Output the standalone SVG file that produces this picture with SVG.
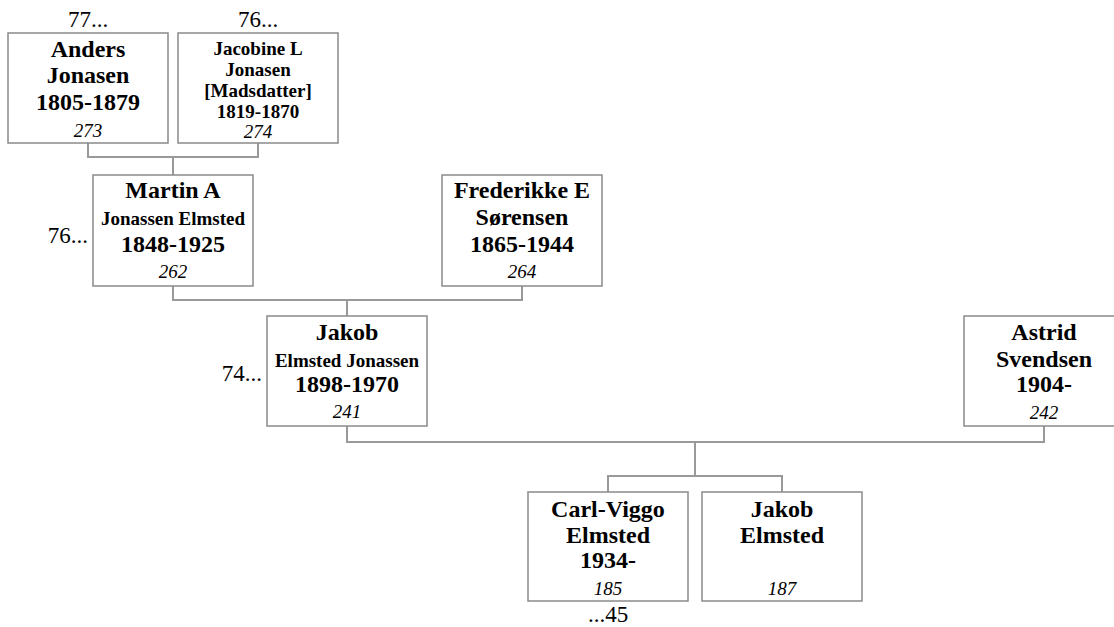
<svg xmlns="http://www.w3.org/2000/svg" width="1114" height="627" viewBox="0 0 1114 627">
<style>
.box{fill:#fff;stroke:#8a8a8a;stroke-width:1.5}
.ln{fill:none;stroke:#999;stroke-width:2}
text{font-family:"Liberation Serif","Times New Roman",serif;fill:#000;text-anchor:middle}
.b{font-weight:bold;font-size:24px}
.s{font-weight:bold;font-size:19px}
.i{font-style:italic;font-size:19px}
.r{font-size:23px}
</style>
<rect width="1114" height="627" fill="#fff"/>
<g id="connectors">
<path class="ln" d="M88 143V157H258V143M173 157V175"/>
<path class="ln" d="M173 286V300H522V286M347 300V316"/>
<path class="ln" d="M347 426V442H1044V426M695 442V476M608 492V476H782V492"/>
</g>
<g id="n273">
<rect class="box" x="8" y="33" width="160" height="110"/>
<text class="r" x="88" y="27">77...</text>
<text class="b" x="88" y="57">Anders</text>
<text class="b" x="88" y="83">Jonasen</text>
<text class="b" x="88" y="110">1805-1879</text>
<text class="i" x="88" y="137">273</text>
</g>
<g id="n274">
<rect class="box" x="178" y="33" width="160" height="110"/>
<text class="r" x="258" y="27">76...</text>
<text class="s" x="258" y="55">Jacobine L</text>
<text class="s" x="258" y="76">Jonasen</text>
<text class="s" x="258" y="97">[Madsdatter]</text>
<text class="s" x="258" y="118">1819-1870</text>
<text class="i" x="258" y="138">274</text>
</g>
<g id="n262">
<rect class="box" x="93" y="175" width="160" height="111"/>
<text class="r" x="88" y="243" style="text-anchor:end">76...</text>
<text class="b" x="173" y="198">Martin A</text>
<text class="s" x="173" y="225">Jonassen Elmsted</text>
<text class="b" x="173" y="252">1848-1925</text>
<text class="i" x="173" y="278">262</text>
</g>
<g id="n264">
<rect class="box" x="442" y="175" width="160" height="111"/>
<text class="b" x="522" y="198">Frederikke E</text>
<text class="b" x="522" y="225">Sørensen</text>
<text class="b" x="522" y="252">1865-1944</text>
<text class="i" x="522" y="278">264</text>
</g>
<g id="n241">
<rect class="box" x="267" y="316" width="160" height="110"/>
<text class="r" x="262" y="381" style="text-anchor:end">74...</text>
<text class="b" x="347" y="340">Jakob</text>
<text class="s" x="347" y="367">Elmsted Jonassen</text>
<text class="b" x="347" y="392">1898-1970</text>
<text class="i" x="347" y="418">241</text>
</g>
<g id="n242">
<rect class="box" x="964" y="316" width="160" height="110"/>
<text class="b" x="1044" y="340">Astrid</text>
<text class="b" x="1044" y="367">Svendsen</text>
<text class="b" x="1044" y="392">1904-</text>
<text class="i" x="1044" y="419">242</text>
</g>
<g id="n185">
<rect class="box" x="528" y="492" width="160" height="109"/>
<text class="b" x="608" y="517">Carl-Viggo</text>
<text class="b" x="608" y="543">Elmsted</text>
<text class="b" x="608" y="568">1934-</text>
<text class="i" x="608" y="595">185</text>
<text class="r" x="608" y="622">...45</text>
</g>
<g id="n187">
<rect class="box" x="702" y="492" width="160" height="109"/>
<text class="b" x="782" y="517">Jakob</text>
<text class="b" x="782" y="543">Elmsted</text>
<text class="i" x="782" y="595">187</text>
</g>
</svg>
